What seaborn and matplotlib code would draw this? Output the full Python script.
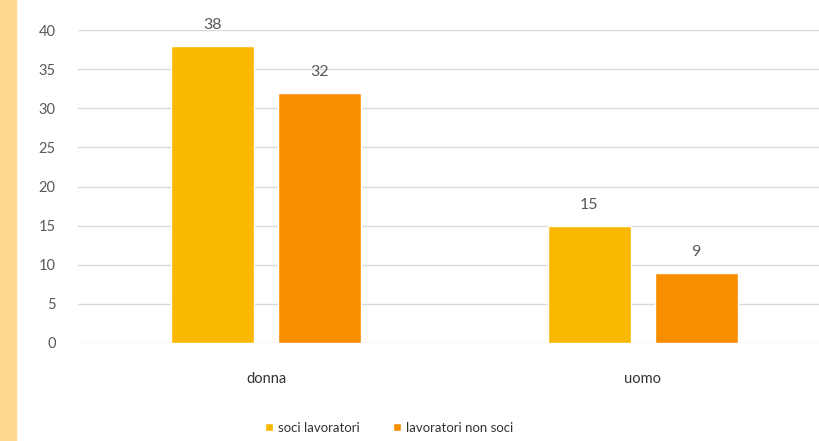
import pandas as pd
import seaborn as sns
import matplotlib.pyplot as plt
from matplotlib.patches import Rectangle

genders = ['donna', 'uomo']
series = ['soci lavoratori', 'lavoratori non soci']
soci = [38, 15]
non_soci = [32, 9]

df = pd.DataFrame({
    'genere': genders * 2,
    'gruppo': [series[0]] * 2 + [series[1]] * 2,
    'valore': soci + non_soci,
})

sns.set_theme(style='white')
plt.rcParams['font.family'] = ['Lato', 'DejaVu Sans']
text_col = '#595959'
colors = ['#FBB800', '#F98D00']

fig = plt.figure(figsize=(8.19, 4.41), dpi=100)
fig.patches.append(Rectangle((0, 0), 16 / 819, 1, transform=fig.transFigure,
                             color='#FDD98F', zorder=0))
ax = fig.add_axes([78 / 819, 98 / 441, 1 - 78 / 819, (343 - 30) / 441])

sns.barplot(data=df, x='genere', y='valore', hue='gruppo', palette=colors,
            saturation=1, width=0.568, gap=0.225, ax=ax, legend=True)

ax.set_ylim(0, 40)
ax.set_xlim(-0.5, 1.468)
ax.set_yticks(range(0, 41, 5))
ax.yaxis.grid(True, color='#D9D9D9', linewidth=1)
ax.set_axisbelow(True)
for s in ax.spines.values():
    s.set_visible(False)
ax.set_xlabel('')
ax.set_ylabel('')
ax.tick_params(axis='y', colors=text_col, labelsize=10.5, length=0, pad=16)
ax.tick_params(axis='x', colors='#333333', labelsize=10.5, length=0, pad=21)

for cont in ax.containers:
    ax.bar_label(cont, padding=10, color=text_col, fontsize=11.5)

handles, labels = ax.get_legend_handles_labels()
ax.get_legend().remove()
fig.legend(handles, labels, loc='lower center', bbox_to_anchor=(0.475, -0.01),
           ncol=2, frameon=False, fontsize=9.5, handlelength=0.6, handleheight=0.6,
           handletextpad=0.4, columnspacing=2.5, labelcolor='#333333')

fig.savefig('out.png', dpi=100)
